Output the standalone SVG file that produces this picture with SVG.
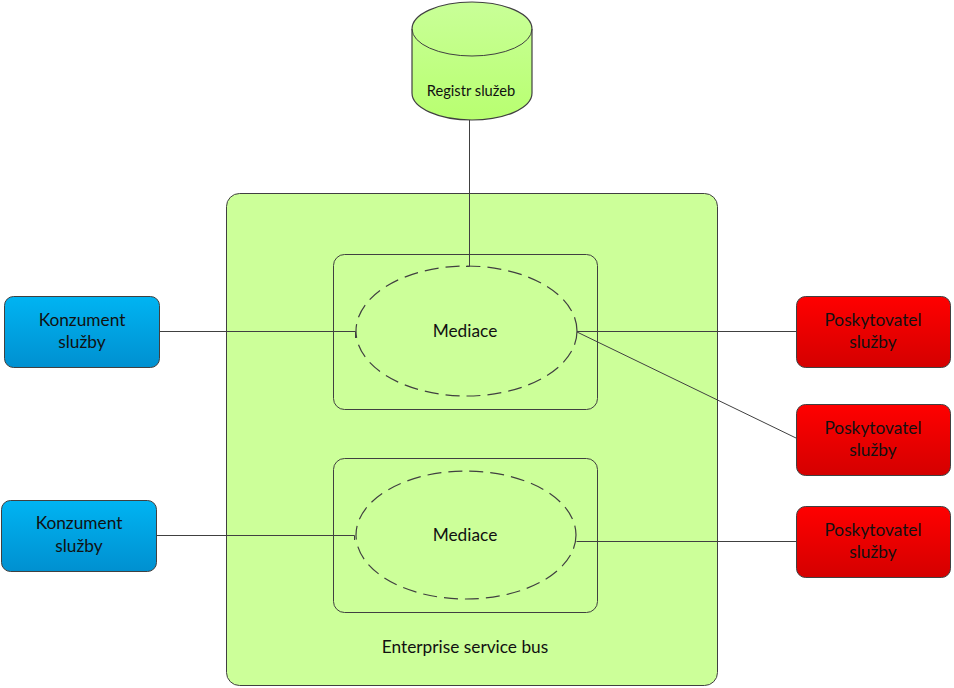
<svg xmlns="http://www.w3.org/2000/svg" width="954" height="688" viewBox="0 0 954 688">
<defs>
<linearGradient id="gBlue" x1="0" y1="0" x2="0" y2="1"><stop offset="0" stop-color="#00b4f2"/><stop offset="1" stop-color="#0090d0"/></linearGradient>
<linearGradient id="gRed" x1="0" y1="0" x2="0" y2="1"><stop offset="0" stop-color="#ff0000"/><stop offset="1" stop-color="#d40000"/></linearGradient>
<linearGradient id="gCyl" x1="0" y1="0" x2="0" y2="1"><stop offset="0" stop-color="#c9ff98"/><stop offset="1" stop-color="#b8ff70"/></linearGradient>
<style>
text{font-family:Lato,"Liberation Sans",sans-serif;fill:#111;text-anchor:middle;dominant-baseline:central}
.t16{font-size:17.3px}
.t13{font-size:14.7px}
.box{stroke:#404040;stroke-width:1}
.con{stroke:#404040;stroke-width:1;fill:none}
.med{fill:none;stroke:#404040;stroke-width:1.2;stroke-dasharray:14 7}
</style>
</defs>
<g id="esb">
<rect x="226.5" y="193.5" width="491" height="492" rx="13" fill="#ccff99" class="box"/>
<text class="t16" x="465" y="646">Enterprise service bus</text>
</g>
<g id="mediace1">
<rect x="333.5" y="254.5" width="264" height="155" rx="11" fill="#ccff99" class="box"/>
<ellipse cx="466.5" cy="331" rx="110.5" ry="65" class="med"/>
<text class="t16" x="465" y="330">Mediace</text>
</g>
<g id="mediace2">
<rect x="333.5" y="458.5" width="264" height="154" rx="11" fill="#ccff99" class="box"/>
<ellipse cx="466" cy="535" rx="110" ry="64" class="med"/>
<text class="t16" x="465" y="534">Mediace</text>
</g>
<g id="registr">
<path d="M412,29 V93 A60,27 0 0 0 532,93 V29 A60,27 0 0 0 412,29 Z" fill="url(#gCyl)" stroke="#404040" stroke-width="1.2"/>
<path d="M412,29 A60,27 0 0 0 532,29" fill="none" stroke="#404040" stroke-width="1"/>
<text class="t13" x="471" y="90">Registr služeb</text>
</g>
<g id="konzument1">
<rect x="4.5" y="296.5" width="155" height="71" rx="9" fill="url(#gBlue)" class="box"/>
<text class="t16" x="82" y="319">Konzument</text>
<text class="t16" x="82" y="341">služby</text>
</g>
<g id="konzument2">
<rect x="1.5" y="500.5" width="155" height="71" rx="9" fill="url(#gBlue)" class="box"/>
<text class="t16" x="79" y="522">Konzument</text>
<text class="t16" x="79" y="545">služby</text>
</g>
<g id="poskytovatel1">
<rect x="796.5" y="296.5" width="154" height="71" rx="9" fill="url(#gRed)" class="box"/>
<text class="t16" x="873" y="319">Poskytovatel</text>
<text class="t16" x="873" y="341">služby</text>
</g>
<g id="poskytovatel2">
<rect x="796.5" y="404.5" width="154" height="71" rx="9" fill="url(#gRed)" class="box"/>
<text class="t16" x="873" y="427">Poskytovatel</text>
<text class="t16" x="873" y="449">služby</text>
</g>
<g id="poskytovatel3">
<rect x="796.5" y="506.5" width="154" height="71" rx="9" fill="url(#gRed)" class="box"/>
<text class="t16" x="873" y="529">Poskytovatel</text>
<text class="t16" x="873" y="551">služby</text>
</g>
<g id="connectors">
<path class="con" d="M469.5,120 V266.5 H466"/>
<path class="con" d="M160,331.5 H355.5 V338"/>
<path class="con" d="M577,331.5 H796"/>
<path class="con" d="M577,332 L796,438"/>
<path class="con" d="M157,535.5 H354.5 V540"/>
<path class="con" d="M576.5,541.5 H796"/>
</g>
</svg>
